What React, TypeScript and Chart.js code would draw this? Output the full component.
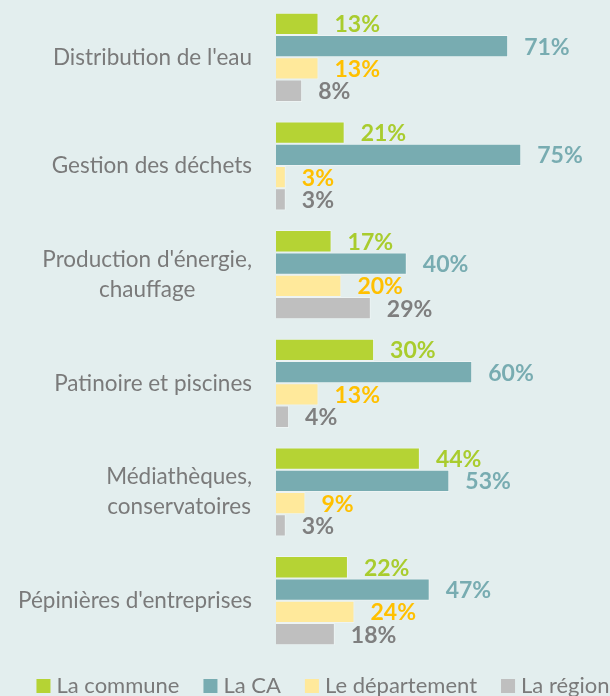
import React, { useEffect, useRef } from "react";
import { Chart, registerables } from "chart.js";

Chart.register(...registerables);

// ---- data ----
const categories: string[][] = [
  ["Distribution de l'eau"],
  ["Gestion des déchets"],
  ["Production d'énergie,", "chauffage"],
  ["Patinoire et piscines"],
  ["Médiathèques,", "conservatoires"],
  ["Pépinières d'entreprises"],
];
const seriesNames = ["La commune", "La CA", "Le département", "La région"];
const communeValues = [13, 21, 17, 30, 44, 22];
const caValues = [71, 75, 40, 60, 53, 47];
const departementValues = [13, 3, 20, 13, 9, 24];
const regionValues = [8, 3, 29, 4, 3, 18];

// ---- styles ----
const BG = "#e3eeee";
const barColors = ["#b5d334", "#78acb1", "#ffe99b", "#bfbfbf"];
const labelColors = ["#a9cc2e", "#78acb1", "#ffc000", "#7f7f7f"];
const TEXT_GREY = "#7a7a7a";
const FONT = "Lato, 'Open Sans', sans-serif";
const CAT_SIZE = 22.5;
const CAT_LINE = 30;
const LABEL_SIZE = 23;
const LEGEND_SIZE = 22;

const valueLabelsPlugin = {
  id: "valueLabels",
  afterDatasetsDraw(chart: any) {
    const ctx = chart.ctx;
    ctx.save();
    ctx.font = `bold ${LABEL_SIZE}px ${FONT}`;
    ctx.textAlign = "left";
    ctx.textBaseline = "middle";
    chart.data.datasets.forEach((ds: any, di: number) => {
      const meta = chart.getDatasetMeta(di);
      meta.data.forEach((bar: any, i: number) => {
        ctx.fillStyle = labelColors[di];
        ctx.fillText(`${ds.data[i]}%`, bar.x + 16, bar.y + 1);
      });
    });
    ctx.restore();
  },
};

const categoryLabelsPlugin = {
  id: "categoryLabels",
  afterDraw(chart: any) {
    const ctx = chart.ctx;
    const scale = chart.scales.y;
    const right = chart.chartArea.left - 24;
    ctx.save();
    ctx.font = `${CAT_SIZE}px ${FONT}`;
    ctx.fillStyle = TEXT_GREY;
    ctx.textAlign = "center";
    ctx.textBaseline = "middle";
    categories.forEach((lines, i) => {
      const y = scale.getPixelForTick(i);
      const w = Math.max(...lines.map((l) => ctx.measureText(l).width));
      const cx = right - w / 2;
      lines.forEach((l, j) => {
        ctx.fillText(l, cx, y + (j - (lines.length - 1) / 2) * CAT_LINE);
      });
    });
    ctx.restore();
  },
};

const legendPlugin = {
  id: "customLegend",
  afterDraw(chart: any) {
    const ctx = chart.ctx;
    ctx.save();
    ctx.font = `${LEGEND_SIZE}px ${FONT}`;
    ctx.textBaseline = "middle";
    ctx.textAlign = "left";
    const box = 14;
    const gap = 6;
    const itemGap = 24;
    const widths = seriesNames.map((n) => box + gap + ctx.measureText(n).width);
    const total = widths.reduce((a, b) => a + b, 0) + itemGap * (widths.length - 1);
    let x = (chart.width - total) / 2 + 18;
    const y = 686;
    seriesNames.forEach((n, i) => {
      ctx.fillStyle = barColors[i];
      ctx.fillRect(x, y - box / 2, box, box);
      ctx.fillStyle = TEXT_GREY;
      ctx.fillText(n, x + box + gap, y);
      x += widths[i] + itemGap;
    });
    ctx.restore();
  },
};

export default function App() {
  const ref = useRef<HTMLCanvasElement | null>(null);

  useEffect(() => {
    document.body.style.margin = "0";
    document.body.style.background = BG;
    const seriesValues = [communeValues, caValues, departementValues, regionValues];
    const chart = new Chart(ref.current as HTMLCanvasElement, {
      type: "bar",
      data: {
        labels: categories.map((c) => c.join(" ")),
        datasets: seriesNames.map((name, i) => ({
          label: name,
          data: seriesValues[i],
          backgroundColor: barColors[i],
          borderColor: "rgba(255,255,255,0.35)",
          borderWidth: 1,
          categoryPercentage: 0.82,
          barPercentage: 1.0,
        })),
      },
      options: {
        indexAxis: "y",
        animation: false,
        responsive: false,
        maintainAspectRatio: false,
        layout: { padding: { top: 3, right: 7, bottom: 41, left: 0 } },
        plugins: {
          legend: { display: false },
          tooltip: { enabled: false },
        },
        scales: {
          x: {
            display: false,
            min: 0,
            max: 100,
          },
          y: {
            display: true,
            grid: { display: false },
            border: { display: false },
            ticks: { display: false },
            afterFit: (s: any) => {
              s.width = 276;
            },
          },
        },
      },
      plugins: [valueLabelsPlugin, categoryLabelsPlugin, legendPlugin],
    });
    return () => chart.destroy();
  }, []);

  return (
    <div style={{ width: 610, height: 696, background: BG }}>
      <canvas ref={ref} width={610} height={696} />
    </div>
  );
}
